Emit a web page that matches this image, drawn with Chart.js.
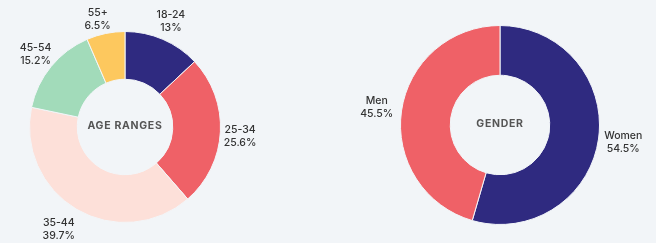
<!DOCTYPE html>
<html><head><meta charset="utf-8">
<script src="https://cdn.jsdelivr.net/npm/chart.js@4"></script>
<style>
html,body{margin:0;padding:0;background:#f2f5f8;width:656px;height:243px;overflow:hidden}
.c{position:absolute;top:0;height:243px}
#age{left:0;width:300px}
#gen{left:330px;width:326px}
</style></head><body>
<div class="c" id="age"><canvas id="ageCanvas"></canvas></div>
<div class="c" id="gen"><canvas id="genCanvas"></canvas></div>
<script>
const ageLabels = ['18-24','25-34','35-44','45-54','55+'];
const ageValues = [13, 25.6, 39.7, 15.2, 6.5];
const ageText = ['13%','25.6%','39.7%','15.2%','6.5%'];
const ageColors = ['#2f2a80','#ef6167','#fde0d9','#a2dbba','#fdc85e'];

const genLabels = ['Women','Men'];
const genValues = [54.5, 45.5];
const genText = ['54.5%','45.5%'];
const genColors = ['#2f2a80','#ef6167'];

// label placement style: [radial gap px, angular shift deg]
const ageLabelGap = [[20,0],[20,2],[26,2.6],[20,0],[16,-2.5]];
const genLabelGap = [[25,0],[25,0]];

const FONT = 'Inter, "Liberation Sans", Arial, sans-serif';

function makePlugin(title, texts, gaps){
  return {
    id:'lbl',
    afterDraw(chart){
      const ctx = chart.ctx;
      const meta = chart.getDatasetMeta(0);
      ctx.save();
      ctx.textAlign='center';
      ctx.textBaseline='middle';
      ctx.fillStyle='#333';
      ctx.font='500 10.5px '+FONT;
      meta.data.forEach((arc,i)=>{
        const p = arc.getProps(['x','y','startAngle','endAngle','outerRadius']);
        const a = (p.startAngle+p.endAngle)/2 + gaps[i][1]*Math.PI/180;
        const r = p.outerRadius + gaps[i][0];
        const x = p.x + Math.cos(a)*r;
        const y = p.y + Math.sin(a)*r;
        ctx.fillText(chart.data.labels[i], x, y-6.5);
        ctx.fillText(texts[i], x, y+6.5);
      });
      const a0 = meta.data[0];
      ctx.fillStyle='#555';
      ctx.font='700 10.5px '+FONT;
      if (ctx.letterSpacing !== undefined) ctx.letterSpacing='0.7px';
      ctx.fillText(title, a0.x, a0.y-1);
      ctx.restore();
    }
  };
}

function donut(id, labels, values, colors, pad, title, texts, gaps){
  new Chart(document.getElementById(id), {
    type:'doughnut',
    data:{labels:labels, datasets:[{data:values, backgroundColor:colors, borderColor:'#f2f5f8', borderWidth:1}]},
    options:{
      responsive:true, maintainAspectRatio:false, animation:false,
      cutout:'50%',
      layout:{padding:pad},
      plugins:{legend:{display:false}, tooltip:{enabled:false}}
    },
    plugins:[makePlugin(title, texts, gaps)]
  });
}
donut('ageCanvas', ageLabels, ageValues, ageColors, {left:29,right:79,top:31,bottom:20}, 'AGE RANGES', ageText, ageLabelGap);
donut('genCanvas', genLabels, genValues, genColors, {left:70,right:56,top:25,bottom:18}, 'GENDER', genText, genLabelGap);
</script>
</body></html>
